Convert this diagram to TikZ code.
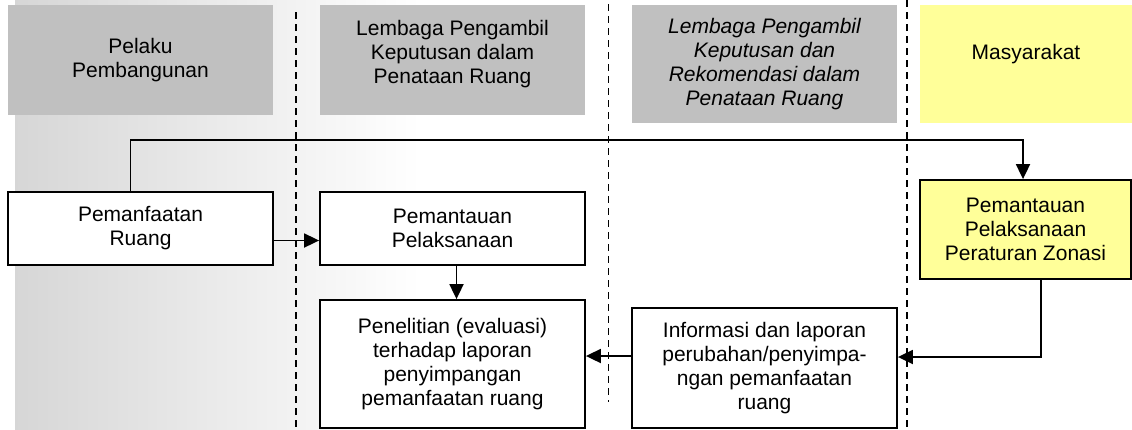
\documentclass[tikz,border=0pt]{standalone}
\usepackage{fontspec}
\setmainfont{Liberation Sans}
\usepackage{xcolor}
\usepackage{tikz}
\usetikzlibrary{positioning,calc,arrows.meta}

\definecolor{hdrgray}{HTML}{C0C0C0}
\definecolor{hdryellow}{HTML}{FFFF99}

\begin{document}
\begin{tikzpicture}[x=1pt, y=-1pt,
    every node/.style={font=\fontsize{21}{24}\selectfont, align=center, inner sep=0pt},
    header/.style={fill=hdrgray, minimum width=265pt, minimum height=110pt},
    procbox/.style={draw, line width=1.8pt, fill=white, minimum width=265pt},
    lane/.style={line width=1.6pt, dash pattern=on 7pt off 5pt},
    arr/.style={line width=1.8pt, -{Triangle[length=15pt, width=14pt]}}]
    \useasboundingbox (0,0) rectangle (1132,429);

    % Background
    \shade[left color=gray!32, right color=white] (15,0) rectangle (420,429);

    % Lanes
    \draw[lane] (296,12) -- (296,429);
    \draw[lane] (608.5,4) -- (608.5,402);
    \draw[lane] (907,0) -- (907,429);

    % Headers
    \node[header] (hPelaku) at (140.5,60) {Pelaku\\Pembangunan};
    \node[header] (hKeputusan) at (452.5,60) {Lembaga Pengambil\\Keputusan dalam\\Penataan Ruang\\[-8pt]\mbox{}};
    \node[header, minimum height=118pt, font=\fontsize{21}{24}\selectfont\itshape] (hRekomendasi) at (764.5,64)
        {Lembaga Pengambil\\Keputusan dan\\Rekomendasi dalam\\Penataan Ruang};
    \node[header, fill=hdryellow, minimum width=212pt, minimum height=118pt] (hMasyarakat) at (1026,64)
        {Masyarakat\\\mbox{}};

    % Process boxes
    \node[procbox, minimum height=73pt] (pemanfaatan) at (140.5,228.5) {Pemanfaatan\\Ruang};
    \node[procbox, minimum height=73pt] (pemantauan) at (452.5,228.5) {Pemantauan\\Pelaksanaan};
    \node[procbox, minimum height=128pt] (penelitian) at (452.5,364)
        {Penelitian (evaluasi)\\terhadap laporan\\penyimpangan\\pemanfaatan ruang};
    \node[procbox, minimum height=120pt] (informasi) at (764.5,368)
        {Informasi dan laporan\\perubahan/penyimpa-\\ngan pemanfaatan\\ruang};
    \node[procbox, fill=hdryellow, minimum width=211pt, minimum height=99pt] (zonasi) at (1025.5,229.5)
        {Pemantauan\\Pelaksanaan\\Peraturan Zonasi};

    % Flows
    \draw[arr] ([xshift=-10pt]pemanfaatan.north) -- ++(0,-51) -| ([xshift=-2.5pt]zonasi.north);
    \draw[arr] ([yshift=-12pt]pemanfaatan.east) -- ([yshift=-12pt]pemanfaatan.east -| pemantauan.west);
    \draw[arr] ([xshift=4pt]pemantauan.south) -- ([xshift=4pt]penelitian.north);
    \draw[arr] ([xshift=15.5pt]zonasi.south) |- ([yshift=11pt]informasi.east);
    \draw[arr] ([yshift=12pt]informasi.west) -- ([yshift=12pt]informasi.west -| penelitian.east);
\end{tikzpicture}
\end{document}
